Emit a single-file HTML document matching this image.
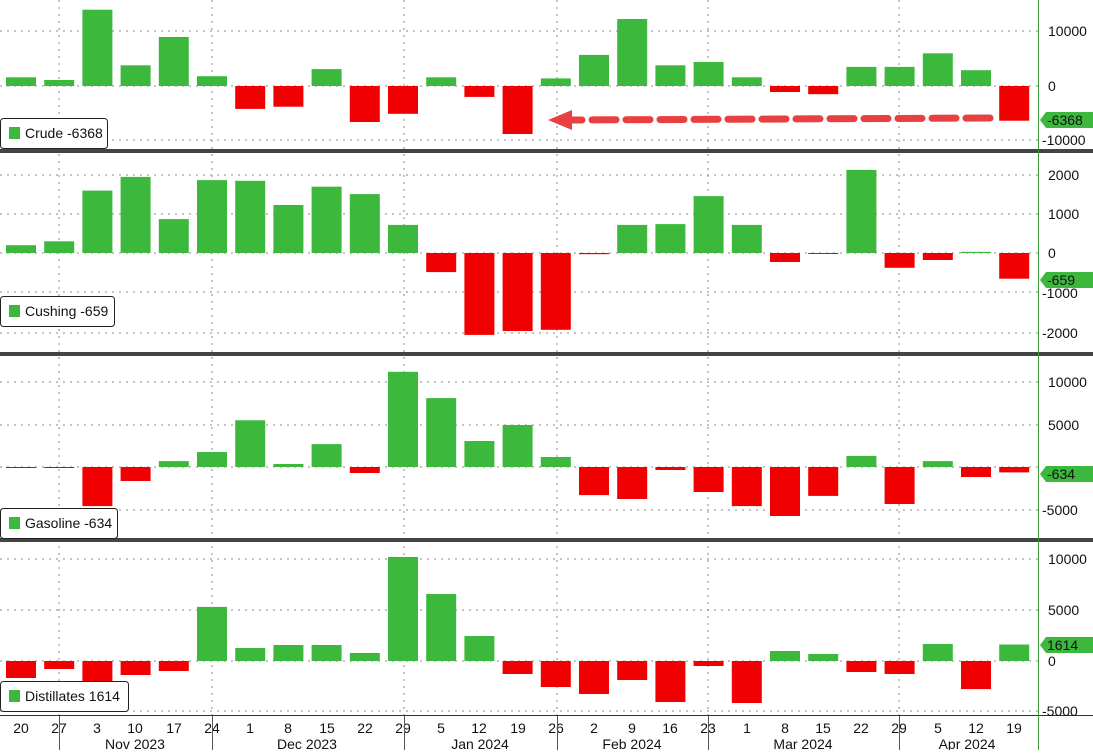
<!DOCTYPE html>
<html><head><meta charset="utf-8"><style>
body{margin:0;background:#fff;width:1093px;height:750px;overflow:hidden;font-family:"Liberation Sans",sans-serif}
svg text{font-family:"Liberation Sans",sans-serif;font-size:14px;fill:#111}
</style></head><body>
<svg id="s" width="1093" height="750" xmlns="http://www.w3.org/2000/svg">
<g id="grid" stroke="#888" stroke-dasharray="2,5" stroke-width="1">
<line x1="0" x2="1038" y1="31" y2="31"/><line x1="0" x2="1038" y1="86" y2="86"/><line x1="0" x2="1038" y1="140" y2="140"/>
<line x1="0" x2="1038" y1="175" y2="175"/><line x1="0" x2="1038" y1="214" y2="214"/><line x1="0" x2="1038" y1="253" y2="253"/><line x1="0" x2="1038" y1="292" y2="292"/><line x1="0" x2="1038" y1="333" y2="333"/>
<line x1="0" x2="1038" y1="382" y2="382"/><line x1="0" x2="1038" y1="425" y2="425"/><line x1="0" x2="1038" y1="467" y2="467"/><line x1="0" x2="1038" y1="510" y2="510"/>
<line x1="0" x2="1038" y1="559" y2="559"/><line x1="0" x2="1038" y1="610" y2="610"/><line x1="0" x2="1038" y1="661" y2="661"/><line x1="0" x2="1038" y1="711" y2="711"/>
<line x1="59" x2="59" y1="0" y2="715"/><line x1="212" x2="212" y1="0" y2="715"/><line x1="404" x2="404" y1="0" y2="715"/><line x1="557" x2="557" y1="0" y2="715"/><line x1="708" x2="708" y1="0" y2="715"/><line x1="899" x2="899" y1="0" y2="715"/>
</g>
<g id="bars"></g>
<rect x="0" y="149" width="1093" height="4" fill="#444"/>
<rect x="0" y="352" width="1093" height="4" fill="#444"/>
<rect x="0" y="538" width="1093" height="4" fill="#444"/>
<line x1="0" x2="1093" y1="715.5" y2="715.5" stroke="#333"/>
<line x1="1038.5" x2="1038.5" y1="0" y2="750" stroke="#3a9a3a"/>
<line x1="990" y1="118" x2="570" y2="120" stroke="#e84040" stroke-width="7" stroke-dasharray="24,10" stroke-linecap="round"/>
<polygon points="548,120 572,110 572,130" fill="#e84040"/>
<g>
<text x="1048" y="36">10000</text><text x="1048" y="91">0</text><text x="1042" y="145">-10000</text>
<text x="1048" y="180">2000</text><text x="1048" y="219">1000</text><text x="1048" y="258">0</text><text x="1042" y="298">-1000</text><text x="1042" y="338">-2000</text>
<text x="1048" y="387">10000</text><text x="1048" y="430">5000</text><text x="1042" y="515">-5000</text>
<text x="1048" y="564">10000</text><text x="1048" y="615">5000</text><text x="1048" y="666">0</text><text x="1042" y="716">-5000</text>
</g>
<g fill="#3cb93c">
<polygon points="1040,120 1046,112 1093,112 1093,128 1046,128"/>
<polygon points="1040,280 1046,272 1093,272 1093,288 1046,288"/>
<polygon points="1040,474 1046,466 1093,466 1093,482 1046,482"/>
<polygon points="1040,645 1046,637 1093,637 1093,653 1046,653"/>
</g>
<text x="1047" y="125">-6368</text><text x="1047" y="285">-659</text><text x="1047" y="479">-634</text><text x="1047" y="650">1614</text>
<g stroke="#222" fill="#fff">
<rect x="0.5" y="118.5" width="107" height="30" rx="3"/>
<rect x="0.5" y="296.5" width="114" height="30" rx="3"/>
<rect x="0.5" y="508.5" width="117" height="30" rx="3"/>
<rect x="0.5" y="681.5" width="128" height="30" rx="3"/>
</g>
<g fill="#3cb93c"><rect x="9" y="127" width="11" height="12"/><rect x="9" y="305" width="11" height="12"/><rect x="9" y="517" width="11" height="12"/><rect x="9" y="690" width="11" height="12"/></g>
<text x="25" y="138">Crude -6368</text><text x="25" y="316">Cushing -659</text><text x="25" y="528">Gasoline -634</text><text x="25" y="701">Distillates 1614</text>
<g text-anchor="middle">
<text x="21" y="733">20</text><text x="59" y="733">27</text><text x="97" y="733">3</text><text x="135" y="733">10</text><text x="174" y="733">17</text><text x="212" y="733">24</text><text x="250" y="733">1</text><text x="288" y="733">8</text><text x="327" y="733">15</text><text x="365" y="733">22</text><text x="403" y="733">29</text><text x="441" y="733">5</text><text x="479" y="733">12</text><text x="518" y="733">19</text><text x="556" y="733">26</text><text x="594" y="733">2</text><text x="632" y="733">9</text><text x="670" y="733">16</text><text x="708" y="733">23</text><text x="747" y="733">1</text><text x="785" y="733">8</text><text x="823" y="733">15</text><text x="861" y="733">22</text><text x="899" y="733">29</text><text x="938" y="733">5</text><text x="976" y="733">12</text><text x="1014" y="733">19</text>
<text x="135" y="749">Nov 2023</text><text x="307" y="749">Dec 2023</text><text x="480" y="749">Jan 2024</text><text x="632" y="749">Feb 2024</text><text x="803" y="749">Mar 2024</text><text x="967" y="749">Apr 2024</text>
</g>
<g stroke="#555"><line x1="59.5" x2="59.5" y1="716" y2="750"/><line x1="212.5" x2="212.5" y1="716" y2="750"/><line x1="404.5" x2="404.5" y1="716" y2="750"/><line x1="557.5" x2="557.5" y1="716" y2="750"/><line x1="708.5" x2="708.5" y1="716" y2="750"/><line x1="899.5" x2="899.5" y1="716" y2="750"/></g>
</svg>
<script>
var P=[
[86,5.45/1000,[1600,1100,14000,3800,9000,1800,-4200,-3800,3100,-6600,-5100,1600,-2000,-8800,1400,5700,12300,3800,4400,1600,-1100,-1500,3500,3500,6000,2900,-6368]],
[253,0.039,[200,300,1600,1950,870,1870,1850,1230,1700,1510,720,-490,-2100,-2000,-1970,-30,720,740,1460,720,-230,-20,2130,-380,-180,30,-659]],
[467,0.0085,[-100,-100,-4600,-1650,700,1760,5500,350,2700,-700,11200,8100,3060,4940,1180,-3300,-3760,-350,-2940,-4600,-5760,-3400,1300,-4350,700,-1180,-634]],
[661,0.0102,[-1670,-780,-2300,-1370,-980,5300,1270,1570,1570,780,10200,6570,2450,-1270,-2550,-3240,-1860,-4020,-490,-4120,980,690,-1080,-1270,1670,-2750,1614]]];
var g=document.getElementById('bars'),h='';
P.forEach(function(p){p[2].forEach(function(v,i){var x=21+i*38.2-15,hh=Math.max(1,Math.abs(v)*p[1]),y=v>0?p[0]-hh:p[0];
h+='<rect x="'+x.toFixed(1)+'" y="'+y.toFixed(1)+'" width="30" height="'+hh.toFixed(1)+'" fill="'+(v>0?'#3cb93c':'#f00000')+'"/>';});});
g.innerHTML=h;
</script>
</body></html>
